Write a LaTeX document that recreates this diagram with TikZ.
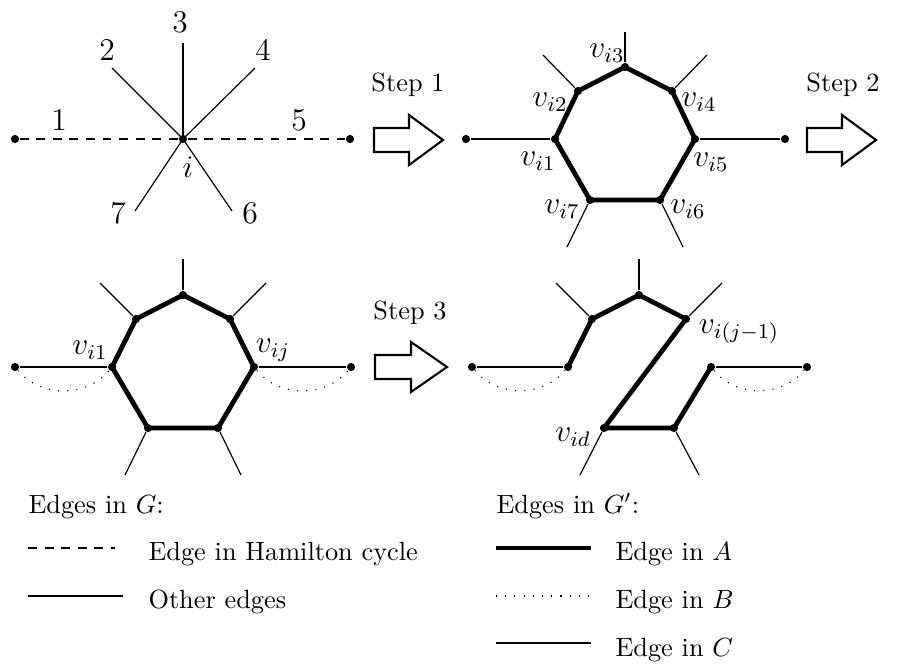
\documentclass[tikz,border=0pt]{standalone}
\begin{document}
\begin{tikzpicture}[x=0.38pt,y=-0.38pt,
  dot/.style={circle,fill=black,inner sep=0pt,minimum size=3.1pt},
  thin/.style={line width=0.45pt},
  hamdash/.style={line width=0.45pt,dash pattern=on 3.4pt off 2.9pt},
  edgeA/.style={line width=1.8pt,line join=round},
  edgeB/.style={line width=0.45pt,dash pattern=on 0.4pt off 3.1pt},
  lbl/.style={font=\large,inner sep=0pt},
  txt/.style={inner sep=0pt,anchor=base west},
  bigarrow/.style={line width=0.8pt,line join=miter}]
\useasboundingbox (0,0) rectangle (910,666);

% ---------- Panel 1 ----------
\node[dot] (c) at (183,139) {};
\node[dot] (l1) at (15,139) {};
\node[dot] (r1) at (350,139) {};
\coordinate (s3) at (183,43);
\coordinate (s2) at (112,68);
\coordinate (s4) at (255,68);
\coordinate (s7) at (135,211);
\coordinate (s6) at (232,211);
\draw[hamdash] (l1) -- (c);
\draw[hamdash] (c) -- (r1);
\draw[thin] (c.center) -- (s3);
\draw[thin] (c.center) -- (s2);
\draw[thin] (c.center) -- (s4);
\draw[thin] (c.center) -- (s7);
\draw[thin] (c.center) -- (s6);
\node[lbl] (n3) at (180,22) {3};
\node[lbl] (n2) at (107,50) {2};
\node[lbl] (n4) at (263,50) {4};
\node[lbl] (n1) at (59,120) {1};
\node[lbl] (n5) at (299,120) {5};
\node[lbl] (ni) at (188,167) {$i$};
\node[lbl] (n7) at (118,213) {7};
\node[lbl] (n6) at (250,213) {6};

% ---------- Arrows ----------
\draw[bigarrow] (374,128) -- (409,128) -- (409,115) -- (443,140) -- (409,165) -- (409,152) -- (374,152) -- cycle;
\node (st1) at (408,85) {Step 1};
\draw[bigarrow] (807,128) -- (842,128) -- (842,115) -- (876,140) -- (842,165) -- (842,152) -- (807,152) -- cycle;
\node (st2) at (843,85) {Step 2};
\draw[bigarrow] (375,355) -- (411,355) -- (411,342) -- (447,367) -- (411,392) -- (411,379) -- (375,379) -- cycle;
\node (st3) at (410,313) {Step 3};

% ---------- Panel 2 ----------
\node[dot] (bt) at (625,67) {};
\node[dot] (b2) at (578,91) {};
\node[dot] (b4) at (672,91) {};
\node[dot] (b1) at (555,139) {};
\node[dot] (b5) at (695,139) {};
\node[dot] (b7) at (590,200) {};
\node[dot] (b6) at (660,200) {};
\node[dot] (bl) at (466,139) {};
\node[dot] (br) at (785,139) {};
\coordinate (bst) at (625,32);
\coordinate (bs2) at (543,55);
\coordinate (bs4) at (707,55);
\coordinate (bs7) at (567,247);
\coordinate (bs6) at (683,247);
\draw[thin] (bl) -- (b1);
\draw[thin] (b5) -- (br);
\draw[thin] (bt) -- (bst);
\draw[thin] (b2) -- (bs2);
\draw[thin] (b4) -- (bs4);
\draw[thin] (b7) -- (bs7);
\draw[thin] (b6) -- (bs6);
\draw[edgeA] (b1.center) -- (b2.center) -- (bt.center) -- (b4.center) -- (b5.center) -- (b6.center) -- (b7.center) -- cycle;
\node[lbl] (lb3) at (607,53) {$v_{i3}$};
\node[lbl] (lb2) at (550,102) {$v_{i2}$};
\node[lbl] (lb4) at (699,102) {$v_{i4}$};
\node[lbl] (lb1) at (538,161) {$v_{i1}$};
\node[lbl] (lb5) at (711,162) {$v_{i5}$};
\node[lbl] (lb7) at (562,209) {$v_{i7}$};
\node[lbl] (lb6) at (688,209) {$v_{i6}$};

% ---------- Panel 3 ----------
\node[dot] (ct) at (183,295) {};
\node[dot] (c2) at (136,319) {};
\node[dot] (c4) at (230,319) {};
\node[dot] (c1) at (112,367) {};
\node[dot] (c5) at (254,367) {};
\node[dot] (c7) at (148,428) {};
\node[dot] (c6) at (218,428) {};
\node[dot] (cl) at (15,367) {};
\node[dot] (cr) at (351,367) {};
\coordinate (cst) at (183,259);
\coordinate (cs2) at (100,283);
\coordinate (cs4) at (266,283);
\coordinate (cs7) at (125,475);
\coordinate (cs6) at (241,475);
\draw[thin] (cl) -- (c1);
\draw[thin] (c5) -- (cr);
\draw[thin] (ct) -- (cst);
\draw[thin] (c2) -- (cs2);
\draw[thin] (c4) -- (cs4);
\draw[thin] (c7) -- (cs7);
\draw[thin] (c6) -- (cs6);
\draw[edgeA] (c1.center) -- (c2.center) -- (ct.center) -- (c4.center) -- (c5.center) -- (c6.center) -- (c7.center) -- cycle;
\draw[edgeB] (cl) to[bend right=50] (c1);
\draw[edgeB] (c5) to[bend right=50] (cr);
\node[lbl] (lc1) at (90,350) {$v_{i1}$};
\node[lbl] (lcj) at (273,350) {$v_{ij}$};

% ---------- Panel 4 ----------
\node[dot] (dt) at (639,295) {};
\node[dot] (d2) at (592,319) {};
\node[dot] (d4) at (686,319) {};
\node[dot] (d1) at (568,367) {};
\node[dot] (d5) at (711,367) {};
\node[dot] (dd) at (604,428) {};
\node[dot] (d6) at (674,428) {};
\node[dot] (dl) at (472,367) {};
\node[dot] (dr) at (807,367) {};
\coordinate (dst) at (639,259);
\coordinate (ds2) at (556,283);
\coordinate (ds4) at (722,283);
\coordinate (dsd) at (580,475);
\coordinate (ds6) at (699,475);
\draw[thin] (dl) -- (d1);
\draw[thin] (d5) -- (dr);
\draw[thin] (dt) -- (dst);
\draw[thin] (d2) -- (ds2);
\draw[thin] (d4) -- (ds4);
\draw[thin] (dd) -- (dsd);
\draw[thin] (d6) -- (ds6);
\draw[edgeA] (d1.center) -- (d2.center) -- (dt.center) -- (d4.center) -- (dd.center) -- (d6.center) -- (d5.center);
\draw[edgeB] (dl) to[bend right=50] (d1);
\draw[edgeB] (d5) to[bend right=50] (dr);
\node[lbl] (ldj) at (739,332) {$v_{i(j-1)}$};
\node[lbl] (ldd) at (573,437) {$v_{id}$};

% ---------- Legend ----------
\node[txt] (hG) at (28,513) {Edges in $G$:};
\coordinate (la1) at (28,548);
\coordinate (la2) at (115,548);
\draw[hamdash] (la1) -- (la2);
\node[txt] (tHam) at (148,560) {Edge in Hamilton cycle};
\coordinate (lb1c) at (28,596);
\coordinate (lb2c) at (123,596);
\draw[thin] (lb1c) -- (lb2c);
\node[txt] (tOth) at (148,608) {Other edges};

\node[txt] (hGp) at (496,513) {Edges in $G'$:};
\coordinate (ma1) at (496,548);
\coordinate (ma2) at (591,548);
\draw[line width=1.8pt] (ma1) -- (ma2);
\node[txt] (tA) at (615,560) {Edge in $A$};
\coordinate (mb1) at (496,596);
\coordinate (mb2) at (590,596);
\draw[edgeB] (mb1) -- (mb2);
\node[txt] (tB) at (615,608) {Edge in $B$};
\coordinate (mc1) at (496,643);
\coordinate (mc2) at (591,643);
\draw[thin] (mc1) -- (mc2);
\node[txt] (tC) at (615,656) {Edge in $C$};
\end{tikzpicture}
\end{document}
